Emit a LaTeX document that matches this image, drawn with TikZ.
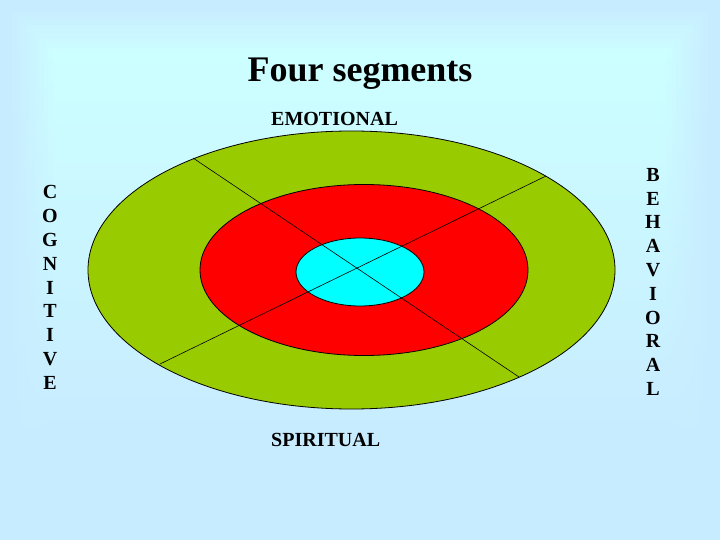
\documentclass[tikz,border=0pt]{standalone}
\usepackage{fontspec}
\setmainfont{Liberation Serif}
\usetikzlibrary{shapes.geometric}
\definecolor{bgblue}{RGB}{200,236,255}
\definecolor{bgcyan}{RGB}{204,255,255}
\definecolor{ringgreen}{RGB}{153,204,0}
\definecolor{ringred}{RGB}{255,0,0}
\definecolor{corecyan}{RGB}{0,255,255}
\begin{document}
\begin{tikzpicture}[x=1pt,y=-1pt,
  ring/.style={ellipse, draw=black, line width=0.8pt, inner sep=0pt},
  divider/.style={draw=black, line width=0.6pt},
  lbl/.style={font=\fontsize{20}{24}\selectfont\bfseries, inner sep=0pt},
  vlet/.style={font=\fontsize{20}{24}\selectfont\bfseries, inner sep=0pt, anchor=base}]
\fill[bgblue] (0,0) rectangle (720,540);
\foreach \i in {1,...,10} {
  \pgfmathsetmacro\d{8+4.5*\i}
  \pgfmathtruncatemacro\p{10*\i}
  \shade[top color=bgcyan!\p!bgblue, middle color=bgcyan!\p!bgblue, bottom color=bgblue]
    (\d,\d) rectangle ({720-\d},{480-\d});
}
\useasboundingbox (0,0) rectangle (720,540);

\node[ring, fill=ringgreen, minimum width=527pt, minimum height=278pt] (outer) at (351.5,270) {};
\node[ring, fill=ringred, minimum width=328pt, minimum height=171pt] (middle) at (364,270) {};
\node[ring, fill=corecyan, minimum width=128pt, minimum height=68pt] (core) at (360,272) {};

\coordinate (tl) at (193,158);
\coordinate (br) at (519,377);
\coordinate (tr) at (546,176);
\coordinate (bl) at (160,364);
\draw[divider] (tl) -- (br);
\draw[divider] (tr) -- (bl);

\node[font=\fontsize{36}{43}\selectfont\bfseries, anchor=base, inner sep=0pt] (title) at (360,82) {Four segments};
\node[lbl, anchor=base west] (emo) at (271,126) {EMOTIONAL};
\node[lbl, anchor=base west] (spi) at (271,446) {SPIRITUAL};
\foreach \l [count=\i] in {C,O,G,N,I,T,I,V,E}
  \node[vlet] (cog\i) at (50,{199+23.75*(\i-1)}) {\l};
\foreach \l [count=\i] in {B,E,H,A,V,I,O,R,A,L}
  \node[vlet] (beh\i) at (653,{181.5+23.75*(\i-1)}) {\l};
\end{tikzpicture}
\end{document}
